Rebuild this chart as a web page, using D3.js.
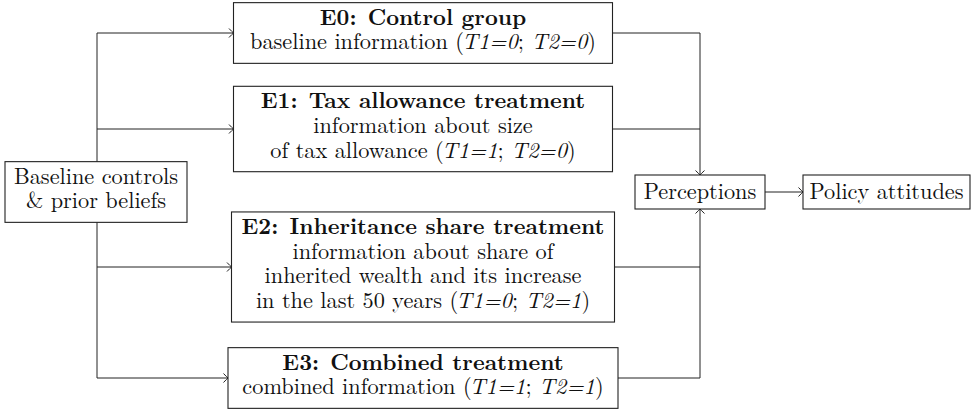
<!DOCTYPE html>
<html>
<meta charset="utf-8">
<style>
  body { margin: 0; background: #fff; }
</style>
<body>
<div id="chart"></div>
<script src="https://cdn.jsdelivr.net/npm/d3@7/dist/d3.min.js"></script>
<script>
  "use strict";

  // ---- data ----
  var treatmentIds = ["E0", "E1", "E2", "E3"];
  var treatmentTitles = ["Control group", "Tax allowance treatment",
                         "Inheritance share treatment", "Combined treatment"];
  var treatmentText = [
    ["baseline information"],
    ["information about size", "of tax allowance"],
    ["information about share of", "inherited wealth and its increase", "in the last 50 years"],
    ["combined information"]
  ];
  var t1Values = [0, 1, 0, 1];
  var t2Values = [0, 0, 1, 1];
  var baselineLines = ["Baseline controls", "& prior beliefs"];
  var outcomeNodes = ["Perceptions", "Policy attitudes"];

  // ---- layout ----
  var W = 972, H = 411;
  var FONT = "'Latin Modern Roman', 'CMU Serif', 'Liberation Serif', serif";
  var fontSize = 22.3, lineH = 24.7, padTop = 22, padBot = 14;
  var rowY = d3.scaleOrdinal().domain(treatmentIds).range([33, 129, 267, 378]);
  var boxW = d3.scaleOrdinal().domain(treatmentIds).range([379, 379, 383, 390]);
  var boxCx = 423;
  var trunkX = 97, joinX = 700, midY = 192;
  var outX = d3.scaleOrdinal().domain(outcomeNodes).range([635, 803]);
  var outW = d3.scaleOrdinal().domain(outcomeNodes).range([130, 167]);
  var outH = 34;

  var svg = d3.select("#chart").append("svg")
      .attr("width", W).attr("height", H);

  var lineG = svg.append("g")
      .attr("fill", "none").attr("stroke", "#222").attr("stroke-width", 1);

  // little latex style "to" arrow head, tip at (x,y), pointing in dir (dx,dy)
  function arrowHead(x, y, dx, dy) {
    var s = 4.5;
    var px = -dy, py = dx;
    var p = d3.path();
    p.moveTo(x - dx * s + px * s, y - dy * s + py * s);
    p.quadraticCurveTo(x - dx * 1.2 + px * 1, y - dy * 1.2 + py * 1, x, y);
    p.quadraticCurveTo(x - dx * 1.2 - px * 1, y - dy * 1.2 - py * 1, x - dx * s - px * s, y - dy * s - py * s);
    lineG.append("path").attr("d", p.toString());
  }

  function label(sel) {
    return sel.style("font-family", FONT).style("font-size", fontSize + "px")
        .attr("fill", "#111");
  }

  // build rows
  var rows = treatmentIds.map(function (id, i) {
    var n = treatmentText[i].length + 1;
    var h = padTop + (n - 1) * lineH + padBot;
    return { id: id, i: i, cy: rowY(id), w: boxW(id), h: h, n: n };
  });

  // left trunk
  lineG.append("line")
      .attr("x1", trunkX).attr("x2", trunkX)
      .attr("y1", rowY("E0")).attr("y2", rowY("E3"));

  rows.forEach(function (r) {
    var left = boxCx - r.w / 2, right = boxCx + r.w / 2;
    lineG.append("line").attr("x1", trunkX).attr("x2", left)
        .attr("y1", r.cy).attr("y2", r.cy);
    arrowHead(left, r.cy, 1, 0);
    lineG.append("line").attr("x1", right).attr("x2", joinX)
        .attr("y1", r.cy).attr("y2", r.cy);
  });

  var percTop = midY - outH / 2, percBot = midY + outH / 2;
  lineG.append("line").attr("x1", joinX).attr("x2", joinX)
      .attr("y1", rowY("E0")).attr("y2", percTop);
  arrowHead(joinX, percTop, 0, 1);
  lineG.append("line").attr("x1", joinX).attr("x2", joinX)
      .attr("y1", rowY("E3")).attr("y2", percBot);
  arrowHead(joinX, percBot, 0, -1);

  // perceptions -> attitudes
  var pRight = outX(outcomeNodes[0]) + outW(outcomeNodes[0]);
  lineG.append("line").attr("x1", pRight).attr("x2", outX(outcomeNodes[1]))
      .attr("y1", midY).attr("y2", midY);
  arrowHead(outX(outcomeNodes[1]), midY, 1, 0);

  function box(x, y, w, h) {
    svg.append("rect").attr("x", x).attr("y", y).attr("width", w).attr("height", h)
        .attr("fill", "#fff").attr("stroke", "#222").attr("stroke-width", 1.1);
  }

  // treatment boxes
  rows.forEach(function (r) {
    var top = r.cy - r.h / 2;
    box(boxCx - r.w / 2, top, r.w, r.h);
    var t = label(svg.append("text").attr("text-anchor", "middle"));
    t.append("tspan").attr("x", boxCx).attr("y", top + padTop)
        .attr("font-weight", "bold")
        .text(r.id + ":\u2002" + treatmentTitles[r.i]);
    var lines = treatmentText[r.i];
    lines.forEach(function (ln, k) {
      var last = k === lines.length - 1;
      var ts = t.append("tspan").attr("x", boxCx).attr("y", top + padTop + (k + 1) * lineH);
      if (!last) { ts.text(ln); return; }
      ts.text(ln + " (");
      t.append("tspan").attr("font-style", "italic").attr("dx", -2).text("T1=" + t1Values[r.i]);
      t.append("tspan").text("; ");
      t.append("tspan").attr("font-style", "italic").text("T2=" + t2Values[r.i]);
      t.append("tspan").text(")");
    });
  });

  // baseline box
  var bH = padTop + lineH + padBot;
  box(5, midY - bH / 2, 182, bH);
  baselineLines.forEach(function (ln, k) {
    label(svg.append("text")).attr("text-anchor", "middle")
        .attr("x", 96).attr("y", midY - bH / 2 + padTop + k * lineH)
        .text(ln);
  });

  // outcome boxes
  outcomeNodes.forEach(function (name) {
    box(outX(name), percTop, outW(name), outH);
    label(svg.append("text")).attr("text-anchor", "middle")
        .attr("x", outX(name) + outW(name) / 2).attr("y", midY + 7)
        .text(name);
  });
</script>
</body>
</html>
